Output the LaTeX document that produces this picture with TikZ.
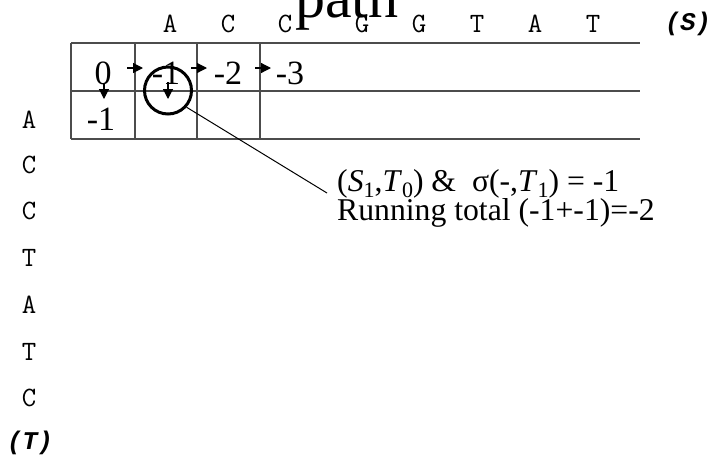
\documentclass[tikz,border=0pt]{standalone}
\usepackage{fontspec}
\setmainfont{Liberation Serif}
\newfontfamily\labfont{Liberation Mono}
\newcommand\subx[1]{\raisebox{-0.2em}{\fontsize{22}{22}\selectfont #1}}
\usetikzlibrary{arrows.meta}
\begin{document}
\begin{tikzpicture}[x=1pt,y=-1pt,
  gridline/.style={draw=black!70, line width=2pt},
  seq/.style={font=\ttfamily\fontsize{28}{28}\selectfont, inner sep=0pt},
  lab/.style={font=\labfont\bfseries\itshape\fontsize{25.5}{25.5}\selectfont, inner sep=0pt},
  num/.style={font=\fontsize{34}{34}\selectfont, inner sep=0pt},
  note/.style={font=\fontsize{31.7}{31.7}\selectfont, inner sep=0pt, anchor=base west},
  arr/.style={line width=1.2pt, -{Triangle[length=10pt,width=10pt]}}]
\useasboundingbox (0,0) rectangle (712,459);
\clip (0,0) rectangle (712,459);

% title (cut off at top)
\node[font=\fontsize{60}{60}\selectfont, anchor=base, inner sep=0pt] (title) at (347,17) {path};

% grid
\draw[gridline] (71,43) -- (640,43) (71,91) -- (640,91) (71,139) -- (640,139);
\draw[gridline] (71,43) -- (71,139) (135,43) -- (135,139) (197,43) -- (197,139) (260,43) -- (260,139);

% sequence S
\node[seq] (s1) at (170,24) {A};
\node[seq] (s2) at (228,24) {C};
\node[seq] (s3) at (285,24) {C};
\node[seq] (s4) at (362,24) {G};
\node[seq] (s5) at (419,24) {G};
\node[seq] (s6) at (477,24) {T};
\node[seq] (s7) at (535,24) {A};
\node[seq] (s8) at (593,24) {T};
\node[lab] (slab) at (688,24) {(S)};

% sequence T
\node[seq] (t1) at (29,120) {A};
\node[seq] (t2) at (29,165) {C};
\node[seq] (t3) at (29,211) {C};
\node[seq] (t4) at (29,258) {T};
\node[seq] (t5) at (29,305) {A};
\node[seq] (t6) at (29,352) {T};
\node[seq] (t7) at (29,398) {C};
\node[lab] (tlab) at (30,443) {(T)};

% cell values
\node[num] (c00) at (103,73.5) {0};
\node[num] (c01) at (166,73.5) {-1};
\node[num] (c02) at (228,73.5) {-2};
\node[num] (c03) at (290,73.5) {-3};
\node[num] (c10) at (101,119) {-1};

% arrows
\coordinate (r1s) at (127,68); \coordinate (r1e) at (143,68);
\coordinate (r2s) at (191,68); \coordinate (r2e) at (207,68);
\coordinate (r3s) at (255,68); \coordinate (r3e) at (271,68);
\coordinate (d1s) at (104,84); \coordinate (d1e) at (104,99);
\coordinate (d2s) at (168,82); \coordinate (d2e) at (168,99);
\draw[arr] (r1s) -- (r1e);
\draw[arr] (r2s) -- (r2e);
\draw[arr] (r3s) -- (r3e);
\draw[arr] (d1s) -- (d1e);
\draw[arr] (d2s) -- (d2e);

% circle
\node[draw, circle, line width=3pt, minimum size=47pt, inner sep=0pt] (circ) at (168,90.5) {};

% annotation
\node[note] (note1) at (337,191) {(\textit{S}\subx{1},\textit{T}\subx{0}) \& \ σ(-,\textit{T}\subx{1}) = -1};
\node[note] (note2) at (337,220) {Running total (-1+-1)=-2};
\coordinate (lnend) at (327,193);
\draw[line width=1pt] (circ.-42) -- (lnend);
\end{tikzpicture}
\end{document}
